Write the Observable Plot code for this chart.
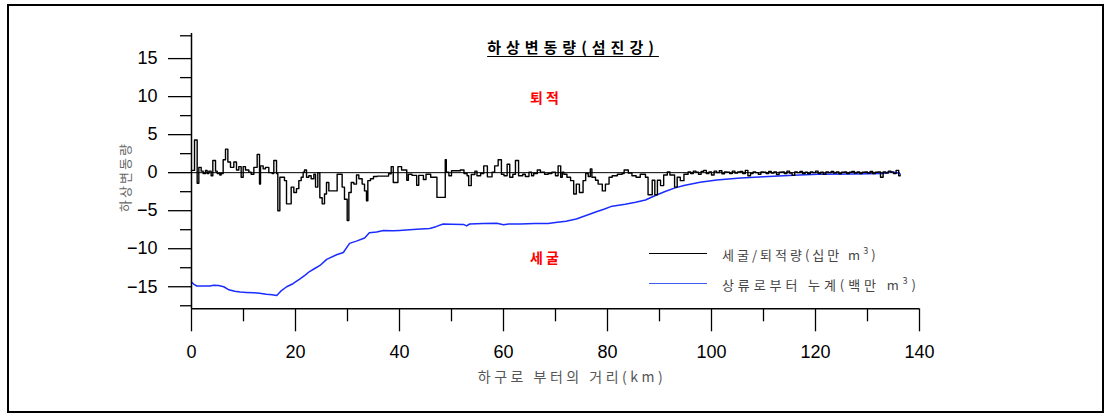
<!DOCTYPE html>
<html>
<head>
<meta charset="utf-8">
<script src="https://cdn.jsdelivr.net/npm/d3@7"></script>
<script src="https://cdn.jsdelivr.net/npm/@observablehq/plot@0.6"></script>
<style>
  html, body { margin: 0; padding: 0; background: #fff; }
  #wrap { position: relative; width: 1109px; height: 417px; overflow: hidden; }
  #wrap svg { position: absolute; left: 0; top: 0; }
  .ann { position: absolute; white-space: nowrap; font-family: "Noto Sans CJK KR", sans-serif; line-height: 1; }
  .frame { position: absolute; left: 7px; top: 4px; width: 1097px; height: 409px; border: 2px solid #000; box-sizing: border-box; pointer-events: none; }
</style>
</head>
<body>
<div id="wrap"></div>
<script>
// ---- data ----
const title = "하상변동량(섬진강)";
const yLabel = "하상변동량";
const xLabel = "하구로 부터의 거리(km)";
const seriesNames = ["세굴/퇴적량(십만 m", "상류로부터 누계(백만 m"];
const zoneLabels = ["퇴적", "세굴"];

const xMajorTicks = [0, 20, 40, 60, 80, 100, 120, 140];
const xMinorTicks = [10, 30, 50, 70, 90, 110, 130];
const yMajorTicks = [-15, -10, -5, 0, 5, 10, 15];
const yMinorTicks = [-17.5, -12.5, -7.5, -2.5, 2.5, 7.5, 12.5, 18];

// erosion / deposition per section (십만 m3): step start km and value
const blackKm = [0,0.58,1.09,1.41,1.86,2.24,2.69,3.01,3.33,3.78,4.1,4.62,4.94,5.45,5.7,6.09,6.54,6.99,7.5,8.14,8.65,9.1,9.55,9.94,10.38,11.03,11.47,11.99,12.63,13.08,13.27,13.78,14.23,14.87,15.51,15.83,16.35,16.6,16.99,17.88,18.27,19.17,19.68,20.19,20.64,21.09,21.47,21.73,22.12,22.56,23.01,23.53,23.85,24.29,24.68,25.13,25.58,25.96,26.41,28.01,28.97,29.42,29.94,30.26,30.71,31.22,31.73,32.18,32.82,33.27,33.65,33.91,34.42,35.0,35.71,37.9,38.4,38.8,39.7,40.4,41.4,41.7,42.4,43.3,43.7,44.6,45.1,46.0,47.2,48.8,49.0,49.5,50.0,51.7,52.4,53.0,53.3,53.8,54.5,54.9,55.6,56.2,56.9,57.8,58.3,58.97,59.6,60.1,60.7,61.2,61.8,62.3,62.9,63.7,64.2,64.9,65.4,65.8,66.5,67.1,67.9,68.6,69.3,70.0,70.5,71.0,71.3,71.6,72.2,72.9,73.5,74.0,74.6,75.3,75.8,76.3,76.7,77.0,77.7,78.2,79.0,79.6,80.3,80.9,81.9,82.8,83.2,84.0,84.7,85.5,86.3,87.3,87.8,88.6,89.1,89.6,90.2,90.8,91.5,92.0,92.9,93.4,94.0,94.7,95.5,96,96.5,97,97.5,98,98.5,99,99.5,100,100.5,101,101.5,102,102.5,103,103.5,104,104.5,105,105.5,106,106.5,107,107.5,108,108.5,109,109.5,110,110.5,111,111.5,112,112.5,113,113.5,114,114.5,115,115.5,116,116.5,117,117.5,118,118.5,119,119.5,120,120.5,121,121.5,122,122.5,123,123.5,124,124.5,125,125.5,126,126.5,127,127.5,128,128.5,129,129.5,130,130.5,131,131.5,132,132.5,133,133.5,134,134.5,135,135.5,136,136.3];
const blackVal = [0.3,4.3,-1.4,0.7,0.2,-0.1,0.3,-0.1,0.2,-0.4,1.6,0.2,-0.1,-0.3,-0.1,1.7,3.1,1.4,0.7,1.4,0.35,0.8,-0.6,0.8,0.35,0.05,-0.2,0.7,2.4,-1.5,0.9,0.5,0.7,0,-0.1,1.6,-0.1,-5.0,-0.6,-1.05,-4.1,-1.9,-2.6,-2.1,-1.05,-0.6,0.05,0.35,-0.6,-0.4,-0.8,-0.2,-1.9,0,-3.3,-4.1,-2.8,-1.3,-2.4,-0.2,-1.9,-3.5,-6.3,-2.6,-1.3,-1.5,-0.3,-0.8,-1.5,-2.4,-3.7,-1.05,-0.8,-0.5,-0.45,-0.15,0.8,-1.3,0.8,0.35,-1.0,-0.2,-0.35,-1.65,-0.35,-0.9,-0.2,-0.6,-3.25,1.7,0.05,-0.4,0.25,0.35,-0.1,-0.4,-1.7,-0.25,0.2,-0.4,-0.1,0.9,-0.55,0.05,0.9,1.7,-0.2,-0.4,1.1,-0.6,-0.2,1.6,-0.4,-0.2,-0.5,0.05,-0.4,-0.1,0.35,0.05,-0.2,-0.1,0.05,-0.4,0.9,-0.6,0.05,-0.2,-0.6,-1.05,-2.8,-1.5,-2.6,-1.05,-0.1,-0.5,0.5,-0.6,-1.0,-1.5,-2.4,-1.5,-0.6,-0.4,-0.2,-0.1,0.35,-0.05,-0.4,-0.6,-0.2,-0.6,-2.9,-1.0,-2.9,-1.0,-1.7,-0.3,0.1,-0.3,-1.9,-0.6,-1.05,-0.2,0.1,-0.1,0.2,0.05,-0.2,0.15,0.3,-0.1,0.1,-0.3,0.2,0,0.25,-0.15,0.1,0.05,-0.1,0.2,-0.05,0.1,0.15,-0.1,0.3,-0.4,-0.1,0.1,0,-0.2,0.1,0.05,-0.1,0.15,-0.05,0.1,-0.25,0.05,0.1,-0.1,0.2,-0.05,-0.35,0.1,0,0.15,-0.1,0.05,-0.15,0.1,0,0.2,-0.1,0.05,-0.2,0.1,0,0.15,-0.05,0.1,-0.15,0.05,0.1,-0.1,0.05,0.15,-0.05,0.1,-0.1,0.05,0.1,-0.05,0.15,-0.1,0.05,0.1,-0.6,0.1,-0.05,0.2,0.05,-0.1,0.3,-0.4,-0.4];

// cumulative from upstream (백만 m3)
const blueKm = [0,0.5,1,2,3.5,4.3,5.2,6.2,7.2,8.3,9.4,10.5,12,13.1,14.4,15.5,16.4,17.3,18.3,19.5,20.8,21.8,22.7,23.7,24.7,26,27.9,29.2,30.4,31.7,33.3,34.2,35.6,36.9,38.8,40,41.3,43.3,45.8,47,48.4,50,52.3,52.9,53.5,56.1,58.7,60,61,63.2,66,68.6,70,72,74,76,78,79.3,80.9,83.4,85.4,87.3,89.2,91.2,93,94.7,97.8,101,105.6,110,115.8,120.4,127.3,133,134.4,136,136.3];
const blueVal = [-14.4,-14.7,-14.9,-14.9,-14.9,-14.8,-14.85,-15.0,-15.4,-15.6,-15.7,-15.75,-15.8,-15.85,-16.0,-16.05,-16.15,-15.5,-15.0,-14.6,-14.0,-13.5,-13.0,-12.6,-12.2,-11.4,-10.8,-10.5,-9.3,-9.0,-8.6,-7.9,-7.8,-7.6,-7.65,-7.6,-7.55,-7.45,-7.35,-7.1,-6.75,-6.78,-6.8,-7.0,-6.75,-6.67,-6.65,-6.85,-6.75,-6.75,-6.7,-6.67,-6.55,-6.4,-6.1,-5.6,-5.1,-4.8,-4.4,-4.15,-3.9,-3.6,-3.0,-2.45,-2.0,-1.7,-1.27,-0.96,-0.7,-0.53,-0.35,-0.22,-0.18,-0.1,0.13,-0.05,-0.2];

// ---- build ----
const black = blackKm.map((k, i) => ({km: k, v: blackVal[i]}));
const blue = blueKm.map((k, i) => ({km: k, v: blueVal[i]}));
const xEnd = blackKm[blackKm.length - 1];
const yDomain = [-17.9, 18.3];

const chart = Plot.plot({
  width: 1109,
  height: 417,
  marginLeft: 191,
  marginRight: 190,
  marginTop: 33,
  marginBottom: 108.7,
  x: {domain: [0, 140]},
  y: {domain: yDomain},
  style: {fontFamily: "'Liberation Sans', Arial, sans-serif", fontSize: "18px", color: "#000", background: "transparent", overflow: "visible"},
  marks: [
    Plot.ruleY([0], {x1: 0, x2: xEnd, stroke: "#000", strokeWidth: 1}),
    Plot.line(blue, {x: "km", y: "v", stroke: "#1a2cff", strokeWidth: 1.5}),
    Plot.line(black, {x: "km", y: "v", curve: "step-after", stroke: "#000", strokeWidth: 1.4}),
    Plot.axisY({ticks: yMajorTicks, tickSize: 23, tickPadding: 11, label: null, fontSize: 18, strokeWidth: 1.3}),
    Plot.axisY({ticks: yMinorTicks, tickSize: 11, tickFormat: () => "", label: null, strokeWidth: 1.3}),
    Plot.axisX({ticks: xMajorTicks, tickSize: 23, tickPadding: 13, label: null, fontSize: 18, strokeWidth: 1.3}),
    Plot.axisX({ticks: xMinorTicks, tickSize: 13, tickFormat: () => "", label: null, strokeWidth: 1.3}),
    Plot.ruleX([0], {stroke: "#000", strokeWidth: 1.5}),
    Plot.ruleY([yDomain[0]], {stroke: "#000", strokeWidth: 1.5})
  ]
});

const wrap = document.getElementById("wrap");
wrap.appendChild(chart);

function ann(text, css, html) {
  const d = document.createElement("div");
  d.className = "ann";
  if (html) d.innerHTML = text; else d.textContent = text;
  Object.assign(d.style, css);
  wrap.appendChild(d);
  return d;
}

// title
ann(title, {left: "573px", top: "39px", transform: "translateX(-50%)", fontSize: "15px", fontWeight: "bold", letterSpacing: "5px", textDecoration: "underline", textUnderlineOffset: "3px", color: "#000"});
// zone labels
ann(zoneLabels[0], {left: "546px", top: "97px", transform: "translate(-50%,-50%)", fontSize: "14px", fontWeight: "bold", letterSpacing: "3px", color: "#ff0000"});
ann(zoneLabels[1], {left: "546px", top: "257px", transform: "translate(-50%,-50%)", fontSize: "14px", fontWeight: "bold", letterSpacing: "3px", color: "#ff0000"});
// y label
ann(yLabel, {left: "124px", top: "177px", transform: "translate(-50%,-50%) rotate(-90deg)", fontSize: "13px", letterSpacing: "2px", color: "#666"});
// x label
ann(xLabel, {left: "572px", top: "376px", transform: "translate(-50%,-50%)", fontSize: "14px", letterSpacing: "3.5px", color: "#555"});
// legend
const legendColors = ["#000", "#3b5cf0"];
const legendY = [253, 283];
const legendSpacing = ["3px", "3.9px"];
legendColors.forEach((c, i) => {
  const ln = document.createElement("div");
  Object.assign(ln.style, {position: "absolute", left: "649px", top: (legendY[i] - 0.5) + "px", width: "58px", height: "0", borderTop: "1px solid " + c});
  wrap.appendChild(ln);
  ann(seriesNames[i] + "<sup style='font-size:9px;vertical-align:6px'>3</sup>)", {left: "722px", top: legendY[i] + "px", transform: "translateY(-50%)", fontSize: "13px", letterSpacing: legendSpacing[i], color: "#444"}, true);
});

const fr = document.createElement("div");
fr.className = "frame";
wrap.appendChild(fr);
</script>
</body>
</html>
